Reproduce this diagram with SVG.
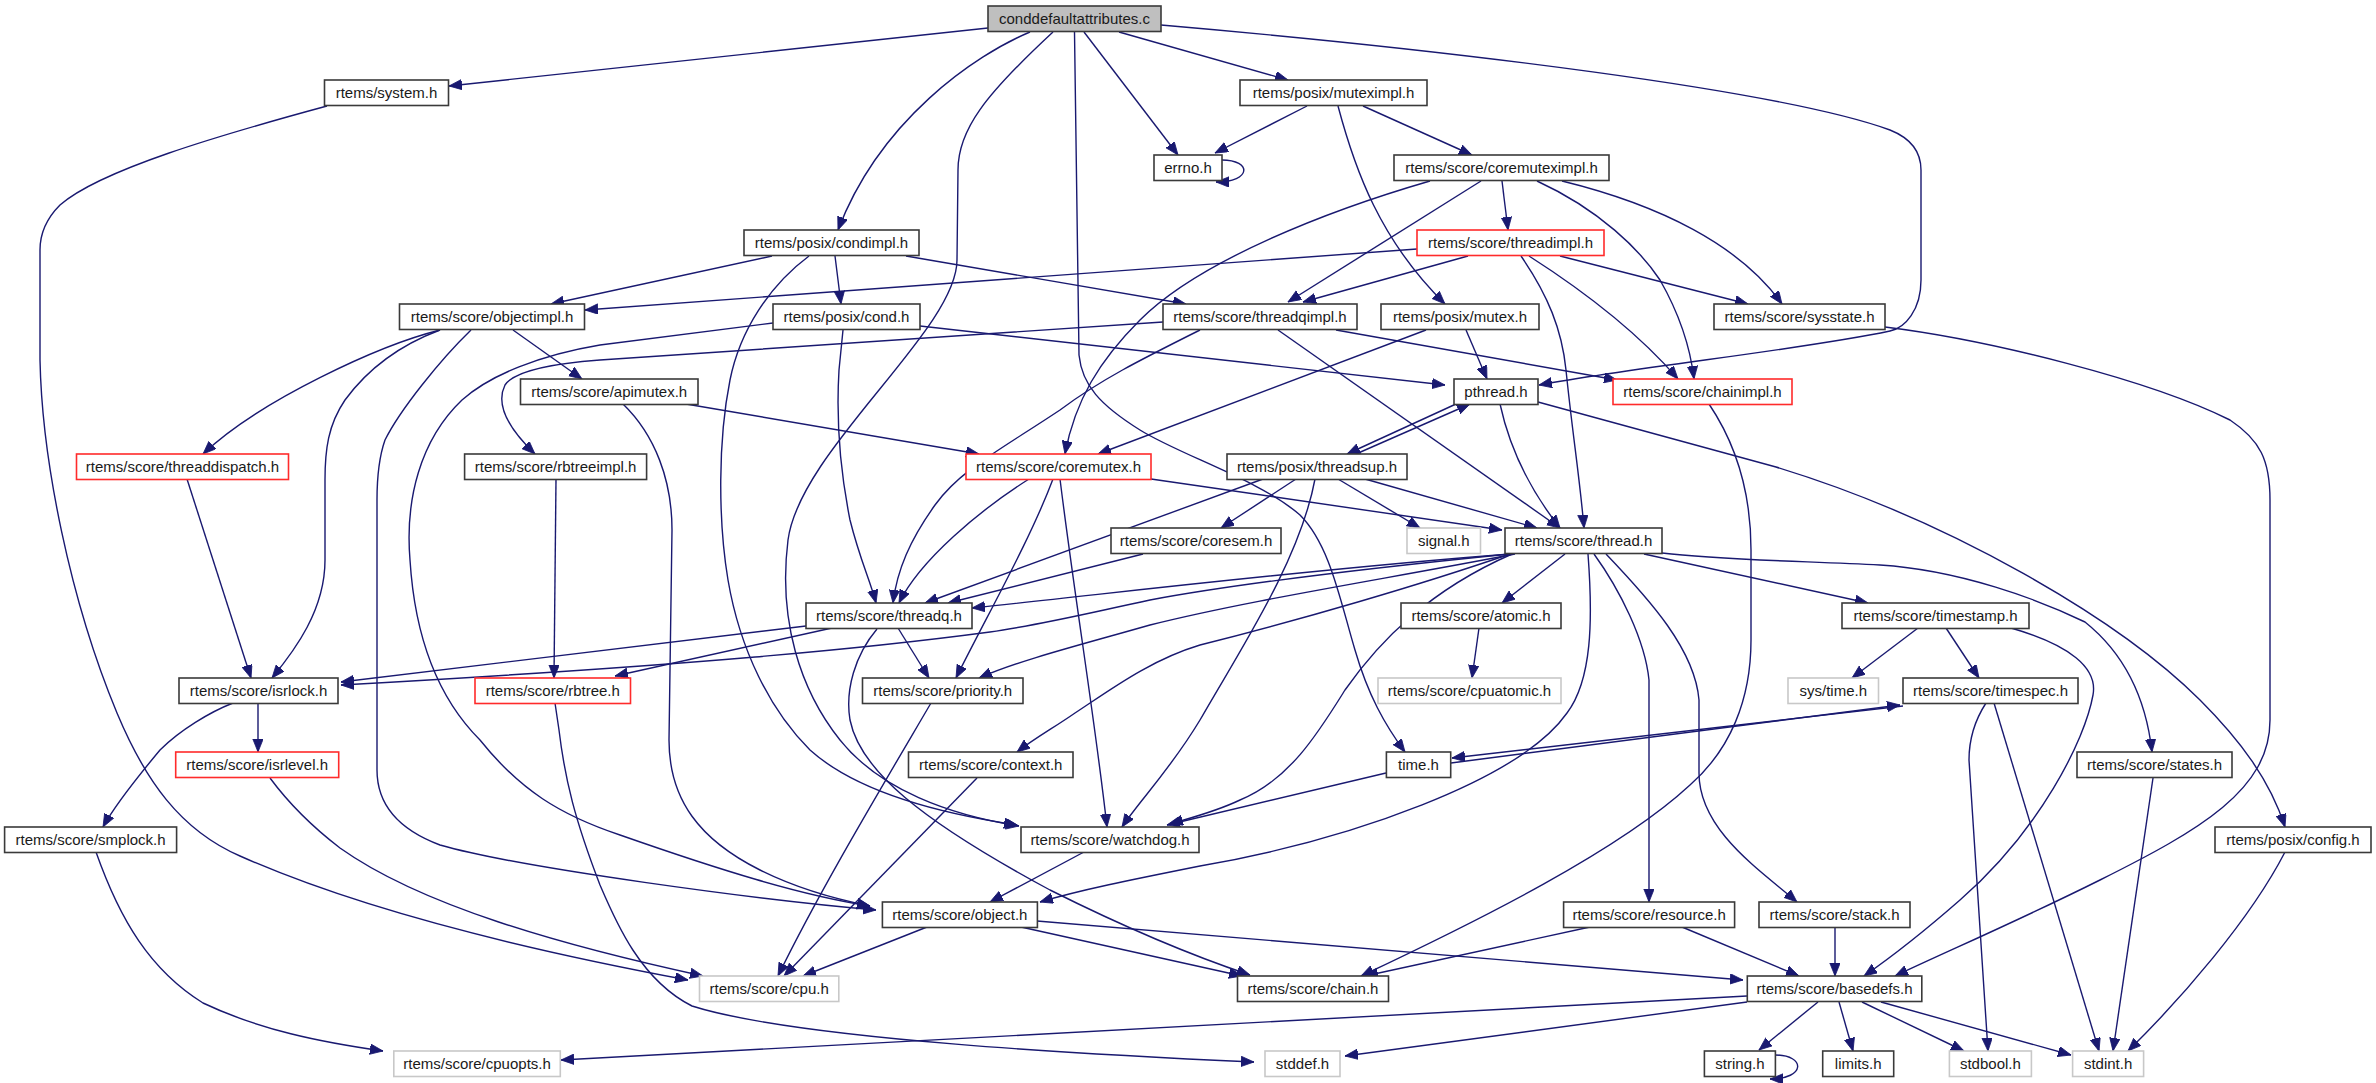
<svg xmlns="http://www.w3.org/2000/svg" width="2376" height="1083" viewBox="0 0 2376 1083">
<defs>
<marker id="ah" markerUnits="userSpaceOnUse" markerWidth="14" markerHeight="11" refX="13" refY="5.2" orient="auto">
<path d="M0,0 L13,5.2 L0,10.4 z" fill="#191970" stroke="#191970" stroke-width="0.8"/>
</marker>
</defs>
<style>
.node rect{fill:#ffffff;stroke:#3a3a3a;stroke-width:1.6}
.node.root rect{fill:#bfbfbf}
.node.trunc rect{stroke:#ff2b2b}
.node.ext rect{stroke:#c8c8c8}
.node text{font-family:"Liberation Sans",Arial,sans-serif;font-size:15px;fill:#1a1a1a;text-anchor:middle}
.edges path{fill:none;stroke:#191970;stroke-width:1.4;marker-end:url(#ah)}
</style>
<rect x="0" y="0" width="2376" height="1083" fill="#ffffff"/>
<g class="edges">
<path d="M988,28 L449,86"/>
<path d="M1030,32 C975,55 880,120 838,230"/>
<path d="M1053,32 C985,95 958,130 958,170 L957,260 C957,330 800,450 788,540 C778,620 800,690 840,740 C880,790 950,815 1019,826"/>
<path d="M1074.5,32 L1079,355 C1082,385 1100,405 1140,430 C1180,455 1260,480 1300,515 C1330,545 1340,600 1355,650 C1368,695 1385,725 1405,752"/>
<path d="M1084,32 L1178,155"/>
<path d="M1119,32 L1288,80"/>
<path d="M1161,25 C1450,50 1780,90 1890,130 C1915,140 1921,155 1921,170 L1921,280 C1921,310 1905,328 1890,331 C1800,350 1650,365 1539,385"/>
<path d="M1307,106 L1215,153"/>
<path d="M1363,106 L1472,155"/>
<path d="M1338,106 C1355,170 1380,240 1445,304"/>
<path d="M1222,160 C1252,160 1252,182 1216,182"/>
<path d="M1430,181 C1330,210 1200,260 1140,320 C1100,360 1075,400 1065,454"/>
<path d="M1481,181 L1288,302"/>
<path d="M1502,181 L1508,230"/>
<path d="M1537,181 C1600,210 1640,250 1660,280 C1680,315 1690,345 1694,379"/>
<path d="M1562,181 C1660,205 1740,245 1782,304"/>
<path d="M772,256 L551,304"/>
<path d="M835,256 L841,304"/>
<path d="M906,256 L1186,304"/>
<path d="M809,256 C770,285 740,330 730,380 C718,440 718,520 728,580 C740,650 770,710 810,750 C860,795 950,815 1017,825"/>
<path d="M1417,249 L585,310"/>
<path d="M1468,256 L1303,302"/>
<path d="M1521,256 C1548,295 1562,330 1566,370 C1572,430 1580,480 1584,528"/>
<path d="M1529,256 C1590,295 1640,335 1678,379"/>
<path d="M1560,256 L1748,304"/>
<path d="M440,330 C380,345 260,400 203,454"/>
<path d="M440,330 C400,345 367,370 345,400 C328,425 325,450 325,480 L325,560 C325,610 295,650 272,678"/>
<path d="M471,330 C440,360 400,410 385,440 C378,460 377,480 377,500 L377,770 C377,805 400,830 440,845 C520,868 760,900 876,910"/>
<path d="M513,330 L582,379"/>
<path d="M920,326 L1445,385"/>
<path d="M843,330 L839,370 C836,420 840,470 850,520 C860,560 870,580 876,603"/>
<path d="M773,323 L600,345 C540,355 490,375 462,400 C420,440 405,500 410,560 C415,640 440,700 480,740 C520,790 560,815 620,835 C720,870 800,895 870,906"/>
<path d="M1163,322 L600,360 C560,363 515,370 505,385 C495,405 510,430 535,454"/>
<path d="M1200,330 C1140,360 1100,380 1060,410 C1000,450 960,470 935,505 C910,540 897,570 893,603"/>
<path d="M1278,330 L1560,528"/>
<path d="M1336,330 L1617,380"/>
<path d="M1426,330 L1098,454"/>
<path d="M1466,330 L1487,379"/>
<path d="M1885,327 C1990,340 2150,380 2230,420 C2260,440 2270,460 2270,500 L2270,720 C2270,790 2200,830 2100,880 C2020,920 1950,950 1895,976"/>
<path d="M686,404 L979,454"/>
<path d="M623,404 C655,435 672,480 672,530 L669,740 C669,800 700,840 760,870 C800,890 840,900 870,906"/>
<path d="M187,479 L251,678"/>
<path d="M556,479 L554,678"/>
<path d="M1029,479 C980,510 920,560 899,603"/>
<path d="M1053,479 C1030,540 990,610 956,678"/>
<path d="M1060,479 C1075,600 1095,720 1107,827"/>
<path d="M1151,479 L1502,530"/>
<path d="M1456,404 L1347,454"/>
<path d="M1356,454 L1470,404"/>
<path d="M1500,404 C1510,450 1530,490 1560,528"/>
<path d="M1538,402 L1776,467 C1950,520 2120,620 2200,700 C2240,740 2270,780 2285,827"/>
<path d="M1296,479 L1221,528"/>
<path d="M1338,479 L1420,528"/>
<path d="M1365,479 L1537,528"/>
<path d="M1263,479 L925,603"/>
<path d="M1315,479 C1300,560 1240,650 1200,720 C1170,770 1140,800 1122,827"/>
<path d="M1143,554 L948,603"/>
<path d="M1510,554 C1350,570 1230,585 1150,600 C1080,615 1040,625 990,632 C870,648 700,665 341,685"/>
<path d="M806,626 L341,682"/>
<path d="M1510,554 C1300,570 1100,595 972,608"/>
<path d="M1515,554 C1380,580 1250,600 1150,625 C1080,645 1020,660 979,678"/>
<path d="M1512,554 C1430,590 1380,640 1345,690 C1320,730 1290,780 1240,800 C1215,812 1190,818 1170,824"/>
<path d="M1588,554 C1593,620 1592,680 1567,713 C1520,780 1350,840 1200,866 C1130,880 1080,890 1040,902"/>
<path d="M1510,554 C1420,585 1300,620 1200,645 C1150,660 1110,690 1075,713 C1055,727 1035,738 1017,752"/>
<path d="M1565,554 L1502,603"/>
<path d="M1644,554 L1868,603"/>
<path d="M1662,553 C1720,560 1800,561 1880,565 C1960,570 2040,600 2085,622 C2120,650 2145,690 2152,752"/>
<path d="M1594,554 C1620,590 1645,640 1649,680 L1649,902"/>
<path d="M1606,554 C1650,600 1695,650 1699,700 L1699,773 C1699,830 1760,870 1797,902"/>
<path d="M1479,628 L1472,678"/>
<path d="M1918,628 L1852,678"/>
<path d="M1946,628 L1979,678"/>
<path d="M2011,628 C2070,645 2098,668 2093,695 C2085,740 2040,830 1960,900 C1920,935 1890,958 1864,976"/>
<path d="M1903,706 L1452,758"/>
<path d="M1451,763 L1900,705"/>
<path d="M1986,703 C1975,720 1969,740 1969,760 L1988,1051"/>
<path d="M1994,703 L2099,1051"/>
<path d="M1386,773 L1167,825"/>
<path d="M2153,778 L2113,1051"/>
<path d="M2285,852 C2250,920 2180,1000 2128,1051"/>
<path d="M1084,852 L990,902"/>
<path d="M927,927 L803,976"/>
<path d="M1021,927 L1242,976"/>
<path d="M1037,921 L1743,980"/>
<path d="M1590,927 L1365,976"/>
<path d="M1682,927 L1799,976"/>
<path d="M1835,927 L1835,976"/>
<path d="M977,778 L784,976"/>
<path d="M931,703 C880,790 820,890 778,976"/>
<path d="M1709,404 C1740,450 1751,500 1751,550 L1751,640 C1751,700 1730,750 1690,785 C1620,850 1480,920 1361,976"/>
<path d="M832,628 L615,676"/>
<path d="M898,628 L929,678"/>
<path d="M877,629 C855,655 845,690 850,720 C860,770 920,820 1050,890 C1120,925 1190,955 1250,975"/>
<path d="M233,703 C210,712 180,730 160,750 C135,780 115,805 103,827"/>
<path d="M258,703 L258,752"/>
<path d="M270,778 C290,805 310,825 340,848 C420,905 560,945 703,976"/>
<path d="M327,106 C220,135 100,170 60,205 C45,220 40,235 40,250 L40,360 C42,460 70,600 117,713 C145,780 180,830 240,856 C350,905 500,945 688,980"/>
<path d="M96,852 C120,920 150,970 203,1003 C260,1030 320,1042 383,1051"/>
<path d="M555,703 L559,730 C565,780 575,820 600,885 C615,920 640,980 692,1006 C800,1040 1100,1055 1254,1062"/>
<path d="M1747,996 L561,1060"/>
<path d="M1747,1002 L1345,1056"/>
<path d="M1818,1002 L1759,1050"/>
<path d="M1839,1002 L1853,1051"/>
<path d="M1862,1002 L1964,1051"/>
<path d="M1881,1002 L2071,1055"/>
<path d="M1775,1055 C1806,1055 1806,1079 1770,1079"/>
</g>
<g id="n0" class="node root"><rect x="988" y="6" width="173" height="25.5"/><text x="1074.5" y="23.5">conddefaultattributes.c</text></g>
<g id="n1" class="node"><rect x="324.5" y="80" width="124" height="25.5"/><text x="386.5" y="97.5">rtems/system.h</text></g>
<g id="n2" class="node"><rect x="1240" y="80" width="187" height="25.5"/><text x="1333.5" y="97.5">rtems/posix/muteximpl.h</text></g>
<g id="n3" class="node"><rect x="1154" y="155" width="68" height="25.5"/><text x="1188" y="172.5">errno.h</text></g>
<g id="n4" class="node"><rect x="1394" y="155" width="215" height="25.5"/><text x="1501.5" y="172.5">rtems/score/coremuteximpl.h</text></g>
<g id="n5" class="node"><rect x="744" y="230" width="175" height="25.5"/><text x="831.5" y="247.5">rtems/posix/condimpl.h</text></g>
<g id="n6" class="node trunc"><rect x="1417" y="230" width="187" height="25.5"/><text x="1510.5" y="247.5">rtems/score/threadimpl.h</text></g>
<g id="n7" class="node"><rect x="399.5" y="304" width="185" height="25.5"/><text x="492" y="321.5">rtems/score/objectimpl.h</text></g>
<g id="n8" class="node"><rect x="773" y="304" width="147" height="25.5"/><text x="846.5" y="321.5">rtems/posix/cond.h</text></g>
<g id="n9" class="node"><rect x="1163" y="304" width="194" height="25.5"/><text x="1260" y="321.5">rtems/score/threadqimpl.h</text></g>
<g id="n10" class="node"><rect x="1381" y="304" width="158" height="25.5"/><text x="1460" y="321.5">rtems/posix/mutex.h</text></g>
<g id="n11" class="node"><rect x="1714" y="304" width="171" height="25.5"/><text x="1799.5" y="321.5">rtems/score/sysstate.h</text></g>
<g id="n12" class="node"><rect x="520.5" y="379" width="177.5" height="25.5"/><text x="609.25" y="396.5">rtems/score/apimutex.h</text></g>
<g id="n13" class="node"><rect x="1454" y="379" width="84" height="25.5"/><text x="1496" y="396.5">pthread.h</text></g>
<g id="n14" class="node trunc"><rect x="1613" y="379" width="179" height="25.5"/><text x="1702.5" y="396.5">rtems/score/chainimpl.h</text></g>
<g id="n15" class="node trunc"><rect x="76.5" y="454" width="212" height="25.5"/><text x="182.5" y="471.5">rtems/score/threaddispatch.h</text></g>
<g id="n16" class="node"><rect x="464.6" y="454" width="182" height="25.5"/><text x="555.6" y="471.5">rtems/score/rbtreeimpl.h</text></g>
<g id="n17" class="node trunc"><rect x="966" y="454" width="185" height="25.5"/><text x="1058.5" y="471.5">rtems/score/coremutex.h</text></g>
<g id="n18" class="node"><rect x="1227" y="454" width="180" height="25.5"/><text x="1317" y="471.5">rtems/posix/threadsup.h</text></g>
<g id="n19" class="node"><rect x="1111" y="528" width="170" height="25.5"/><text x="1196" y="545.5">rtems/score/coresem.h</text></g>
<g id="n20" class="node ext"><rect x="1407" y="528" width="73.5" height="25.5"/><text x="1443.75" y="545.5">signal.h</text></g>
<g id="n21" class="node"><rect x="1505" y="528" width="157" height="25.5"/><text x="1583.5" y="545.5">rtems/score/thread.h</text></g>
<g id="n22" class="node"><rect x="806" y="603" width="166" height="25.5"/><text x="889" y="620.5">rtems/score/threadq.h</text></g>
<g id="n23" class="node"><rect x="1401" y="603" width="160" height="25.5"/><text x="1481" y="620.5">rtems/score/atomic.h</text></g>
<g id="n24" class="node"><rect x="1842" y="603" width="187" height="25.5"/><text x="1935.5" y="620.5">rtems/score/timestamp.h</text></g>
<g id="n25" class="node"><rect x="179" y="678" width="159" height="25.5"/><text x="258.5" y="695.5">rtems/score/isrlock.h</text></g>
<g id="n26" class="node trunc"><rect x="475" y="678" width="155.5" height="25.5"/><text x="552.75" y="695.5">rtems/score/rbtree.h</text></g>
<g id="n27" class="node"><rect x="862.5" y="678" width="160.5" height="25.5"/><text x="942.75" y="695.5">rtems/score/priority.h</text></g>
<g id="n28" class="node ext"><rect x="1378" y="678" width="183" height="25.5"/><text x="1469.5" y="695.5">rtems/score/cpuatomic.h</text></g>
<g id="n29" class="node ext"><rect x="1788" y="678" width="90.5" height="25.5"/><text x="1833.25" y="695.5">sys/time.h</text></g>
<g id="n30" class="node"><rect x="1903" y="678" width="175" height="25.5"/><text x="1990.5" y="695.5">rtems/score/timespec.h</text></g>
<g id="n31" class="node trunc"><rect x="175.7" y="752" width="163" height="25.5"/><text x="257.2" y="769.5">rtems/score/isrlevel.h</text></g>
<g id="n32" class="node"><rect x="908.5" y="752" width="164.5" height="25.5"/><text x="990.75" y="769.5">rtems/score/context.h</text></g>
<g id="n33" class="node"><rect x="1386.4" y="752" width="64.3" height="25.5"/><text x="1418.55" y="769.5">time.h</text></g>
<g id="n34" class="node"><rect x="2077" y="752" width="155" height="25.5"/><text x="2154.5" y="769.5">rtems/score/states.h</text></g>
<g id="n35" class="node"><rect x="4.6" y="827" width="172" height="25.5"/><text x="90.6" y="844.5">rtems/score/smplock.h</text></g>
<g id="n36" class="node"><rect x="1021" y="827" width="178" height="25.5"/><text x="1110" y="844.5">rtems/score/watchdog.h</text></g>
<g id="n37" class="node"><rect x="2215" y="827" width="156" height="25.5"/><text x="2293" y="844.5">rtems/posix/config.h</text></g>
<g id="n38" class="node"><rect x="882.4" y="902" width="155" height="25.5"/><text x="959.9" y="919.5">rtems/score/object.h</text></g>
<g id="n39" class="node"><rect x="1563.6" y="902" width="171" height="25.5"/><text x="1649.1" y="919.5">rtems/score/resource.h</text></g>
<g id="n40" class="node"><rect x="1759" y="902" width="151" height="25.5"/><text x="1834.5" y="919.5">rtems/score/stack.h</text></g>
<g id="n41" class="node ext"><rect x="699.5" y="976" width="139.3" height="25.5"/><text x="769.15" y="993.5">rtems/score/cpu.h</text></g>
<g id="n42" class="node"><rect x="1237.5" y="976" width="151" height="25.5"/><text x="1313" y="993.5">rtems/score/chain.h</text></g>
<g id="n43" class="node"><rect x="1747.3" y="976" width="174.5" height="25.5"/><text x="1834.55" y="993.5">rtems/score/basedefs.h</text></g>
<g id="n44" class="node ext"><rect x="393.8" y="1051" width="166.5" height="25.5"/><text x="477.05" y="1068.5">rtems/score/cpuopts.h</text></g>
<g id="n45" class="node ext"><rect x="1265" y="1051" width="75" height="25.5"/><text x="1302.5" y="1068.5">stddef.h</text></g>
<g id="n46" class="node"><rect x="1704.4" y="1051" width="71" height="25.5"/><text x="1739.9" y="1068.5">string.h</text></g>
<g id="n47" class="node"><rect x="1822.7" y="1051" width="71" height="25.5"/><text x="1858.2" y="1068.5">limits.h</text></g>
<g id="n48" class="node ext"><rect x="1949.4" y="1051" width="82" height="25.5"/><text x="1990.4" y="1068.5">stdbool.h</text></g>
<g id="n49" class="node ext"><rect x="2072.6" y="1051" width="71" height="25.5"/><text x="2108.1" y="1068.5">stdint.h</text></g>
</svg>
